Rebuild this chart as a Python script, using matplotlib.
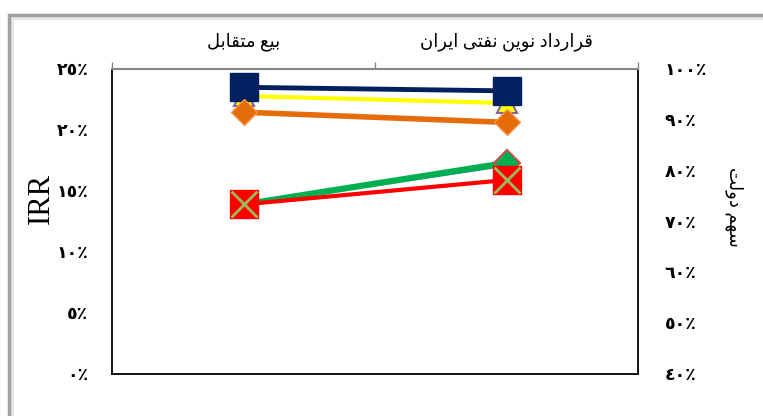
import numpy as np
import matplotlib
matplotlib.use('Agg')
import matplotlib.pyplot as plt
from matplotlib.patches import Rectangle

plt.rcParams['font.family'] = ['Liberation Serif', 'DejaVu Sans']

# contract types along the top axis
categories = ['بیع متقابل', 'قرارداد نوین نفتی ایران']

# IRR series (left axis, %)
irr_blue = [13.9, 17.1]
irr_green = [13.9, 17.3]
irr_red = [13.9, 15.9]

# government share series (right axis, %)
share_navy = [96.4, 95.7]
share_yellow = [94.7, 93.3]
share_orange = [91.5, 89.5]

irr_ticks = [0, 5, 10, 15, 20, 25]
share_ticks = [40, 50, 60, 70, 80, 90, 100]

# presentation forms: isolated, final, initial, medial
FORMS = {
    'ا': (0xFE8D, 0xFE8E),
    'د': (0xFEA9, 0xFEAA),
    'ر': (0xFEAD, 0xFEAE),
    'و': (0xFEED, 0xFEEE),
    'ب': (0xFE8F, 0xFE90, 0xFE91, 0xFE92),
    'ت': (0xFE95, 0xFE96, 0xFE97, 0xFE98),
    'س': (0xFEB1, 0xFEB2, 0xFEB3, 0xFEB4),
    'ع': (0xFEC9, 0xFECA, 0xFECB, 0xFECC),
    'ف': (0xFED1, 0xFED2, 0xFED3, 0xFED4),
    'ق': (0xFED5, 0xFED6, 0xFED7, 0xFED8),
    'ل': (0xFEDD, 0xFEDE, 0xFEDF, 0xFEE0),
    'م': (0xFEE1, 0xFEE2, 0xFEE3, 0xFEE4),
    'ن': (0xFEE5, 0xFEE6, 0xFEE7, 0xFEE8),
    'ه': (0xFEE9, 0xFEEA, 0xFEEB, 0xFEEC),
    'ی': (0xFBFC, 0xFBFD, 0xFBFE, 0xFBFF),
}


def rtl(text):
    # join letters and flip to visual order, since matplotlib does no shaping
    out = []
    for i, ch in enumerate(text):
        forms = FORMS.get(ch)
        if forms is None:
            out.append(ch)
            continue
        prev = text[i - 1] if i > 0 else ''
        nxt = text[i + 1] if i + 1 < len(text) else ''
        after = prev in FORMS and len(FORMS[prev]) == 4
        before = len(forms) == 4 and nxt in FORMS
        if after and before:
            k = 3
        elif after:
            k = 1
        elif before:
            k = 2
        else:
            k = 0
        out.append(chr(forms[k]))
    return ''.join(reversed(out))


def fa_pct(v):
    return str(v).translate(str.maketrans('0123456789', '٠١٢٣٤٥٦٧٨٩')) + '٪'


W, H = 763, 416
fig = plt.figure(figsize=(W / 100, H / 100), dpi=100)

# chart area border
fig.patches.append(Rectangle((12 / W, -0.05), 1.0, 1 - 18 / H + 0.05, transform=fig.transFigure,
                             fill=False, ec='#E6E6E6', lw=3))
fig.patches.append(Rectangle((9 / W, -0.05), 1.0, 1 - 15 / H + 0.05, transform=fig.transFigure,
                             fill=False, ec='#A0A0A0', lw=2.5))

ax = fig.add_axes([112 / W, 42 / H, 526 / W, 305 / H])
x = np.arange(len(categories))

ax.plot(x, irr_blue, color='#4F81BD', lw=2)
ax.plot(x, irr_green, color='#00B050', lw=4.5, marker='D', ms=13.5,
        mfc='#00B050', mec='#C0504D', mew=1.5)
ax.plot(x, irr_red, color='#FF0000', lw=3, marker='s', ms=19.5,
        mfc='#FF0000', mec='#FF0000')
ax.plot(x, irr_red, ls='none', marker='x', ms=19, mec='#9BBB59', mew=2)

ax.set_xlim(-0.5, 1.5)
ax.set_ylim(0, 25)
ax.set_yticks(irr_ticks)
ax.set_yticklabels([fa_pct(t) for t in irr_ticks], fontsize=12.5, fontweight='bold')
ax.tick_params(axis='y', length=0, pad=17)

ax.xaxis.tick_top()
ax.set_xticks(x)
ax.set_xticklabels([rtl(c) for c in categories], fontsize=13)
ax.set_xticks([-0.5, 0.5, 1.5], minor=True)
ax.tick_params(axis='x', which='major', length=0, pad=13)
ax.tick_params(axis='x', which='minor', length=5, width=1, color='#868686', direction='out')

for side in ['left', 'right', 'bottom']:
    ax.spines[side].set_color('black')
    ax.spines[side].set_linewidth(1.3)
ax.spines['top'].set_color('#868686')
ax.spines['top'].set_linewidth(1.5)

ax.set_ylabel('IRR', fontsize=22, family='Liberation Serif')
ax.yaxis.set_label_coords(-0.106, 0.574)

ax2 = ax.twinx()
ax2.plot(x, share_yellow, color='#FFFF00', lw=3, marker='^', ms=15,
         mfc='#FFFF00', mec='#8064A2', mew=1.5)
ax2.plot(x, share_navy, color='#002060', lw=3.5, marker='s', ms=20,
         mfc='#002060', mec='#002060')
ax2.plot(x, share_orange, color='#E46C0A', lw=4, marker='D', ms=13.5,
         mfc='#E46C0A', mec='#F79646', mew=1)
ax2.set_ylim(40, 100)
ax2.set_yticks(share_ticks)
ax2.set_yticklabels([fa_pct(t) for t in share_ticks], fontsize=12.5, fontweight='bold')
ax2.tick_params(axis='y', length=0, pad=19)
for s in ax2.spines.values():
    s.set_visible(False)
ax2.set_ylabel(rtl('سهم دولت'), rotation=270, fontsize=13, va='center')
ax2.yaxis.set_label_coords(1.184, 0.547)

fig.savefig('out.png', dpi=100)
